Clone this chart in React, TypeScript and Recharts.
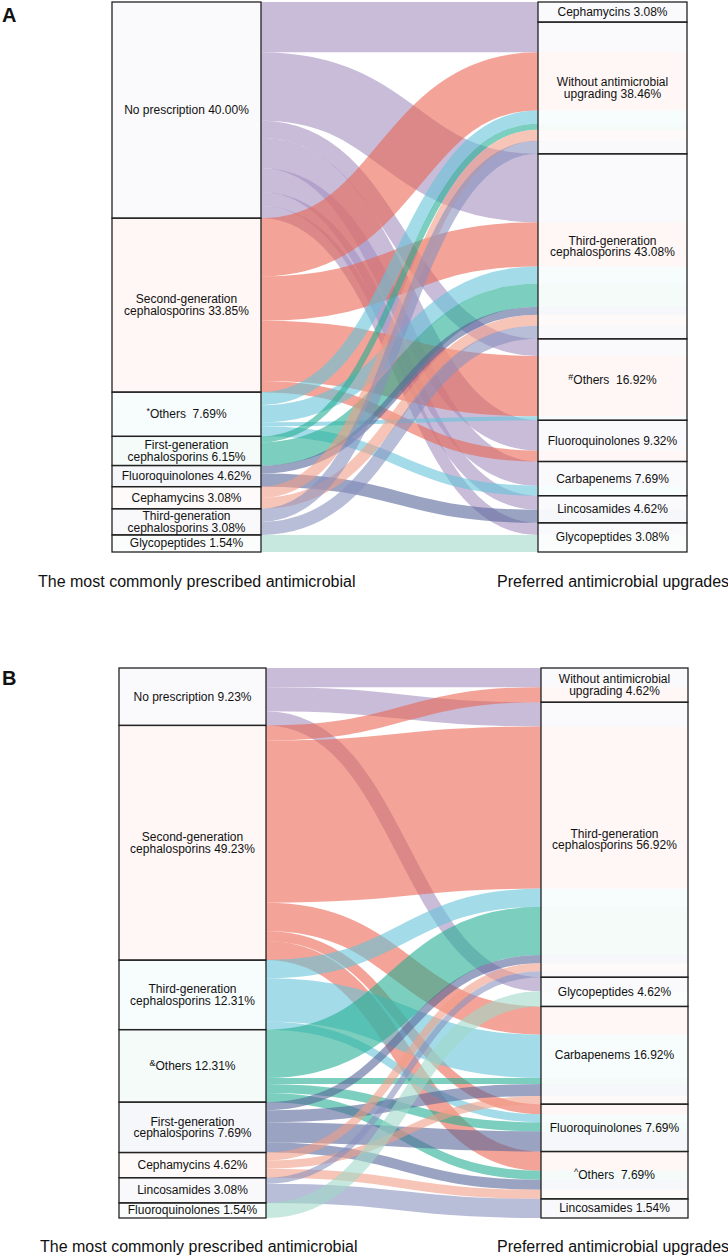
import { Sankey } from "recharts";

// link colours follow the source (left) node, same order in both panels
const palette = ["#a38fc0", "#eb6652", "#66c5d9", "#25af93", "#576699", "#f29e87", "#8991be", "#a0d9c8"];

// ---- panel A ----
const leftLabelsA = [
  "No prescription 40.00%",
  "Second-generation\ncephalosporins 33.85%",
  "Others  7.69%",
  "First-generation\ncephalosporins 6.15%",
  "Fluoroquinolones 4.62%",
  "Cephamycins 3.08%",
  "Third-generation\ncephalosporins 3.08%",
  "Glycopeptides 1.54%",
];
const leftMarksA = ["", "", "*", "", "", "", "", ""];
const rightLabelsA = [
  "Cephamycins 3.08%",
  "Without antimicrobial\nupgrading 38.46%",
  "Third-generation\ncephalosporins 43.08%",
  "Others  16.92%",
  "Fluoroquinolones 9.32%",
  "Carbapenems 7.69%",
  "Lincosamides 4.62%",
  "Glycopeptides 3.08%",
];
const rightMarksA = ["", "", "", "#", "", "", "", ""];
// [left index, right index, drawn width]
const flowsA: [number, number, number][] = [
  [0, 0, 20], [0, 1, 30], [0, 2, 68], [0, 3, 17], [0, 4, 30], [0, 5, 24], [0, 6, 14], [0, 7, 12],
  [1, 1, 58], [1, 2, 44], [1, 3, 60], [1, 4, 11],
  [2, 1, 13], [2, 2, 17], [2, 3, 4], [2, 5, 10],
  [3, 1, 6], [3, 2, 23],
  [4, 2, 8], [4, 6, 13],
  [5, 1, 11], [5, 2, 11],
  [6, 1, 13], [6, 2, 13],
  [7, 7, 17],
];

// ---- panel B ----
const leftLabelsB = [
  "No prescription 9.23%",
  "Second-generation\ncephalosporins 49.23%",
  "Third-generation\ncephalosporins 12.31%",
  "Others 12.31%",
  "First-generation\ncephalosporins 7.69%",
  "Cephamycins 4.62%",
  "Lincosamides 3.08%",
  "Fluoroquinolones 1.54%",
];
const leftMarksB = ["", "", "", "&", "", "", "", ""];
const rightLabelsB = [
  "Without antimicrobial\nupgrading 4.62%",
  "Third-generation\ncephalosporins 56.92%",
  "Glycopeptides 4.62%",
  "Carbapenems 16.92%",
  "Fluoroquinolones 7.69%",
  "Others  7.69%",
  "Lincosamides 1.54%",
];
const rightMarksB = ["", "", "", "", "", "^", ""];
const flowsB: [number, number, number][] = [
  [0, 0, 19], [0, 1, 24], [0, 2, 14],
  [1, 0, 15], [1, 1, 161], [1, 3, 28], [1, 4, 10], [1, 5, 19],
  [2, 1, 18], [2, 3, 43], [2, 4, 8],
  [3, 1, 48], [3, 3, 6], [3, 4, 9], [3, 5, 9],
  [4, 1, 8], [4, 3, 12], [4, 4, 20], [4, 5, 10],
  [5, 1, 8], [5, 3, 8], [5, 5, 9],
  [6, 1, 6], [6, 6, 19],
  [7, 2, 15],
];

function buildData(leftLabels: string[], leftMarks: string[], rightLabels: string[], rightMarks: string[], flows: [number, number, number][]) {
  const nodes = [
    ...leftLabels.map((name, i) => ({ name, mark: leftMarks[i] })),
    ...rightLabels.map((name, i) => ({ name, mark: rightMarks[i] })),
  ];
  const links = flows.map(([s, t, v]) => ({
    source: s,
    target: leftLabels.length + t,
    value: v,
    color: palette[s],
  }));
  return { nodes, links };
}

const dataA = buildData(leftLabelsA, leftMarksA, rightLabelsA, rightMarksA, flowsA);
const dataB = buildData(leftLabelsB, leftMarksB, rightLabelsB, rightMarksB, flowsB);

function makeLink(nodeW: number) {
  return function FlowLink(props: any) {
    const { sourceX, targetX, sourceY, targetY, sourceControlX, targetControlX, linkWidth, payload } = props;
    const color = payload?.color ?? "#999";
    const h = linkWidth;
    return (
      <g>
        <rect x={sourceX - nodeW} y={sourceY - h / 2} width={nodeW} height={h} fill={color} fillOpacity={0.05} />
        <rect x={targetX} y={targetY - h / 2} width={nodeW} height={h} fill={color} fillOpacity={0.05} />
        <path
          d={`M${sourceX},${sourceY}C${sourceControlX},${sourceY} ${targetControlX},${targetY} ${targetX},${targetY}`}
          fill="none"
          stroke={color}
          strokeWidth={h}
          strokeOpacity={0.6}
        />
      </g>
    );
  };
}

function NodeBox(props: any) {
  const { x, y, width, height, payload } = props;
  const lines: string[] = String(payload.name).split("\n");
  const lineH = 11.5;
  const cx = x + width / 2;
  const cy = y + height / 2;
  const first = cy - ((lines.length - 1) * lineH) / 2 + 4;
  return (
    <g>
      <rect x={x} y={y} width={width} height={height} fill="none" stroke="#222" strokeWidth={1.3} />
      <text
        x={cx}
        y={first}
        textAnchor="middle"
        fontSize={12}
        fontFamily="Liberation Sans, Arial, sans-serif"
        fill="#111"
        style={{ whiteSpace: "pre" }}
      >
        {lines.map((ln, i) =>
          i === 0 && payload.mark ? (
            <tspan key={i} x={cx} y={first}>
              <tspan fontSize={9} dy={-4}>{payload.mark}</tspan>
              <tspan dy={4}>{ln}</tspan>
            </tspan>
          ) : (
            <tspan key={i} x={cx} y={first + i * lineH}>
              {ln}
            </tspan>
          )
        )}
      </text>
    </g>
  );
}

export default function App() {
  return (
    <div style={{ position: "absolute", left: 0, top: 0, width: 728, height: 1259, background: "#fff" }}>
      <div style={{ position: "absolute", left: 0, top: 0 }}>
        <Sankey
          width={728}
          height={560}
          data={dataA}
          nodeWidth={149}
          nodePadding={0}
          iterations={0}
          sort={false}
          margin={{ top: 2, right: 41, bottom: 8, left: 112 }}
          link={makeLink(149)}
          node={NodeBox}
        />
      </div>
      <div style={{ position: "absolute", left: 0, top: 660 }}>
        <Sankey
          width={728}
          height={570}
          data={dataB}
          nodeWidth={147}
          nodePadding={0}
          iterations={0}
          sort={false}
          margin={{ top: 8, right: 40, bottom: 12, left: 119 }}
          link={makeLink(147)}
          node={NodeBox}
        />
      </div>
      <svg width={728} height={1259} style={{ position: "absolute", left: 0, top: 0, pointerEvents: "none" }}>
        <g fontFamily="Liberation Sans, Arial, sans-serif" fill="#111">
          <text x={2} y={22} fontSize={20} fontWeight="bold">A</text>
          <text x={2} y={685} fontSize={20} fontWeight="bold">B</text>
          <text x={38} y={587} fontSize={16}>The most commonly prescribed antimicrobial</text>
          <text x={497} y={587} fontSize={16}>Preferred antimicrobial upgrades</text>
          <text x={40} y={1252} fontSize={16}>The most commonly prescribed antimicrobial</text>
          <text x={497} y={1252} fontSize={16}>Preferred antimicrobial upgrades</text>
        </g>
      </svg>
    </div>
  );
}
